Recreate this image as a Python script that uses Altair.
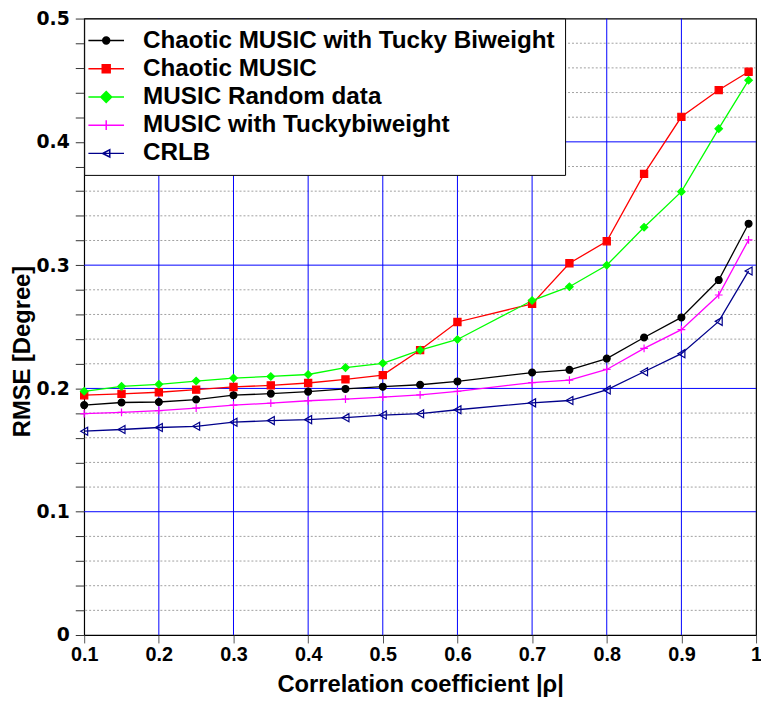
import altair as alt
import pandas as pd

x_vals = [0.1, 0.15, 0.2, 0.25, 0.3, 0.35, 0.4, 0.45, 0.5, 0.55, 0.6, 0.7, 0.75, 0.8, 0.85, 0.9, 0.95, 0.99]

series_names = [
    "Chaotic MUSIC with Tucky Biweight",
    "Chaotic MUSIC",
    "MUSIC Random data",
    "MUSIC with Tuckybiweight",
    "CRLB",
]

chaotic_tb = [0.1865, 0.1886, 0.189, 0.191, 0.1945, 0.1958, 0.1974, 0.1996, 0.2014, 0.203,
              0.2057, 0.2129, 0.2151, 0.2242, 0.2413, 0.2576, 0.2879, 0.3336]
chaotic = [0.1945, 0.1956, 0.1969, 0.199, 0.2012, 0.2025, 0.2044, 0.2073, 0.2108, 0.2311,
           0.2539, 0.2686, 0.3015, 0.3194, 0.374, 0.4203, 0.442, 0.4569]
random_data = [0.1977, 0.2017, 0.2033, 0.206, 0.2084, 0.2097, 0.2113, 0.2169, 0.2204, 0.2311,
               0.2397, 0.2713, 0.2825, 0.2999, 0.3307, 0.3596, 0.4107, 0.45]
music_tb = [0.1795, 0.1806, 0.182, 0.184, 0.1865, 0.188, 0.190, 0.1913, 0.1929, 0.1948,
            0.1977, 0.2047, 0.2068, 0.2154, 0.2325, 0.2477, 0.2758, 0.3205]
crlb = [0.1653, 0.1667, 0.1683, 0.1693, 0.1726, 0.1739, 0.1747, 0.1763, 0.1784, 0.1795,
        0.1827, 0.1883, 0.1902, 0.1988, 0.2135, 0.2282, 0.2544, 0.2953]

x_ticks = [0.1, 0.2, 0.3, 0.4, 0.5, 0.6, 0.7, 0.8, 0.9, 1.0]
x_grid = [0.2, 0.3, 0.4, 0.5, 0.6, 0.7, 0.8, 0.9]
y_all_ticks = [0.0, 0.02, 0.04, 0.06, 0.08, 0.1, 0.12, 0.14, 0.16, 0.18, 0.2, 0.22, 0.24, 0.26,
               0.28, 0.3, 0.32, 0.34, 0.36, 0.38, 0.4, 0.42, 0.44, 0.46, 0.48, 0.5]
y_minor = [0.02, 0.04, 0.06, 0.08, 0.12, 0.14, 0.16, 0.18, 0.22, 0.24, 0.26, 0.28,
           0.32, 0.34, 0.36, 0.38, 0.42, 0.44, 0.46, 0.48]
y_major = [0.1, 0.2, 0.3, 0.4]

colors = ["#000000", "#ff0000", "#00ff00", "#ff00ff", "#00008b"]
fills = ["#000000", "#ff0000", "#00ff00", "transparent", "transparent"]
marker_shapes = ["circle", "square", "diamond", "M-1,0H1M0,-1V1", "triangle-left"]
marker_sizes = [48, 66, 120, 110, 48]
legend_paths = [
    "M-4,0H4M0.78,0A0.78,0.78,0,1,1,-0.78,0A0.78,0.78,0,1,1,0.78,0Z",
    "M-4,0H4M-0.89,-0.89H0.89V0.89H-0.89Z",
    "M-4,0H4M0,-1.22L1.22,0L0,1.22L-1.22,0Z",
    "M-4,0H4M0,-1.1V1.1",
    "M-4,0H4M-0.8,0L0.8,-0.8L0.8,0.8Z",
]

rows = []
for name, ys in zip(series_names, [chaotic_tb, chaotic, random_data, music_tb, crlb]):
    for xv, yv in zip(x_vals, ys):
        rows.append({"x": xv, "y": yv, "series": name})
df = pd.DataFrame(rows)

xscale = alt.Scale(domain=[0.1, 1.0], nice=False, zero=False)
yscale = alt.Scale(domain=[0, 0.5], nice=False, zero=False)

LABEL_FONT = "Liberation Sans"

x_axis = alt.Axis(
    values=x_ticks, format=".1~f", grid=False,
    tickColor="#555555", tickSize=8, domain=False,
    labelFont=LABEL_FONT, labelFontSize=20, labelFontWeight="bold", labelColor="#000000",
    labelPadding=2, labelOverlap=False, labelFlush=False,
    title="Correlation coefficient |ρ|", titleFont=LABEL_FONT, titleFontSize=24,
    titleFontWeight="bold", titleColor="#000000", titlePadding=8,
)

y_axis = alt.Axis(
    values=y_all_ticks, grid=False, orient="left",
    labelExpr="(round(datum.value*100) % 10 == 0) ? format(datum.value, '.1~f') : ''",
    tickColor="#333333", tickSize=9, domain=False,
    labelFont="DejaVu Sans", labelFontSize=19, labelFontWeight="bold", labelColor="#000000",
    labelPadding=6, labelOverlap=False, labelFlush=False,
    title="RMSE [Degree]", titleFont=LABEL_FONT, titleFontSize=24,
    titleFontWeight="bold", titleColor="#000000", titlePadding=2, titleY=336,
)

minor_df = pd.DataFrame({"y": y_minor})
major_df = pd.DataFrame({"y": y_major})
vgrid_df = pd.DataFrame({"x": x_grid})

minor_rules = alt.Chart(minor_df).mark_rule(color="#a0a0a0", strokeDash=[2, 2], strokeWidth=1).encode(
    y=alt.Y("y:Q", scale=yscale, axis=y_axis),
)
major_rules = alt.Chart(major_df).mark_rule(color="#0000ff", strokeWidth=1).encode(
    y=alt.Y("y:Q", scale=yscale, axis=y_axis),
)
v_rules = alt.Chart(vgrid_df).mark_rule(color="#0000ff", strokeWidth=1).encode(
    x=alt.X("x:Q", scale=xscale, axis=x_axis),
)

lines = alt.Chart(df).mark_line(strokeWidth=1.3).encode(
    x=alt.X("x:Q", scale=xscale, axis=x_axis),
    y=alt.Y("y:Q", scale=yscale, axis=y_axis),
    color=alt.Color("series:N", scale=alt.Scale(domain=series_names, range=colors), legend=None),
    detail="series:N",
)

points = alt.Chart(df).mark_point(filled=True, strokeWidth=1.2, opacity=1).encode(
    x=alt.X("x:Q", scale=xscale, axis=x_axis),
    y=alt.Y("y:Q", scale=yscale, axis=y_axis),
    shape=alt.Shape("series:N", scale=alt.Scale(domain=series_names, range=marker_shapes), legend=None),
    fill=alt.Fill("series:N", scale=alt.Scale(domain=series_names, range=fills), legend=None),
    stroke=alt.Stroke("series:N", scale=alt.Scale(domain=series_names, range=colors), legend=None),
    size=alt.Size("series:N", scale=alt.Scale(domain=series_names, range=marker_sizes), legend=None),
)

legend_layer = alt.Chart(df).transform_filter("datum.x < 0").mark_point(
    filled=True, strokeWidth=1.5, opacity=1
).encode(
    x=alt.X("x:Q", scale=xscale, axis=x_axis),
    y=alt.Y("y:Q", scale=yscale, axis=y_axis),
    shape=alt.Shape("series:N", scale=alt.Scale(domain=series_names, range=legend_paths),
                    legend=alt.Legend(title=None)),
    fill=alt.Fill("series:N", scale=alt.Scale(domain=series_names, range=fills),
                  legend=alt.Legend(title=None)),
    stroke=alt.Stroke("series:N", scale=alt.Scale(domain=series_names, range=colors),
                      legend=alt.Legend(title=None)),
)

chart = alt.layer(minor_rules, major_rules, v_rules, legend_layer, lines, points).resolve_scale(
    shape="independent", fill="independent", stroke="independent"
).properties(
    width=679, height=623,
    autosize=alt.AutoSizeParams(type="none"),
    padding={"left": 77, "top": 7, "right": 5, "bottom": 62},
).configure_view(
    stroke="#000000", strokeWidth=1.2
).configure_legend(
    orient="top-left", offset=0, padding=10, strokeColor="#000000", fillColor="#ffffff",
    labelFont=LABEL_FONT, labelFontSize=24.5, labelFontWeight="bold", labelColor="#000000",
    labelLimit=0, labelOffset=25, rowPadding=3.5, symbolSize=81, symbolStrokeWidth=1.5,
    symbolOpacity=1, cornerRadius=0,
)

chart.save("out.html", embed_options={"renderer": "svg", "actions": False})
